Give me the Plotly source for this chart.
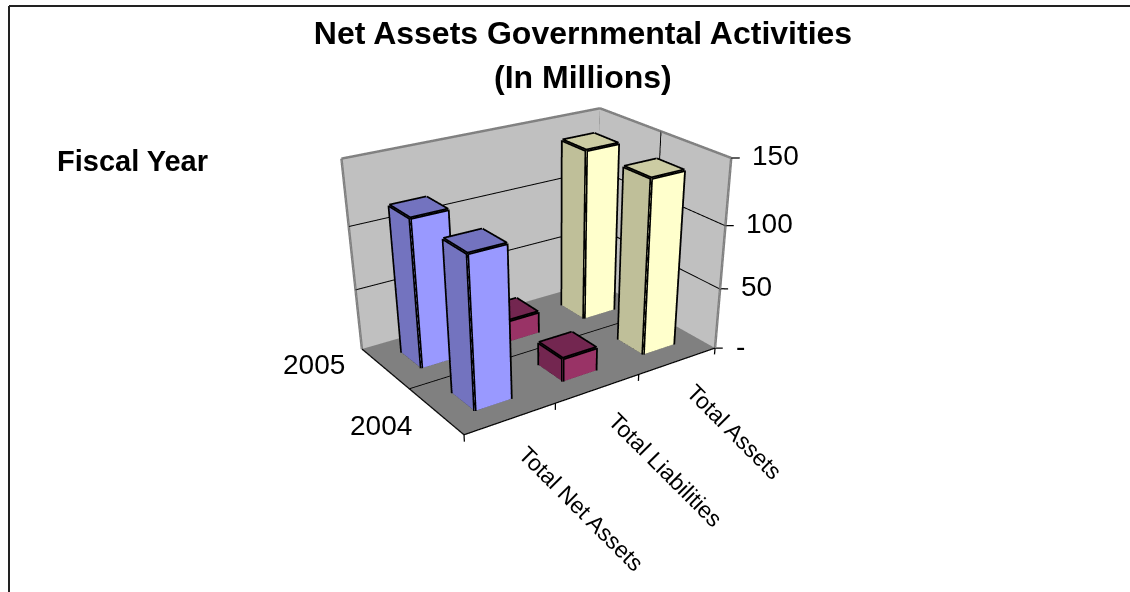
import plotly.graph_objects as go

categories = ["Total Net Assets", "Total Liabilities", "Total Assets"]
years = ["2004", "2005"]
v2004 = [118, 19, 139]
v2005 = [118, 18, 139]
zticks = [0, 50, 100, 150]
zlabels = ["-", "50", "100", "150"]

# Camera of the 3D scene
BOX = (0.8799, 0.6034, 0.5819)
EYE = (-1.6562, -2.4942, 1.2375)
CENTER = (-0.0350, -0.1585, -0.5894)
UP = (0.0009, -0.0017, 1)
PX = 558.9128
FH = 917      # the scene needs this height for its field of view; the page shows the top 592 px

fig = go.Figure()
flat = dict(ambient=1, diffuse=0, specular=0, fresnel=0, roughness=1)
BAR_LO, BAR_HI = 0.30, 0.70

def box(x0, x1, y0, y1, z0, z1, fr, sd, top):
    X = [x0, x1, x1, x0, x0, x1, x1, x0]
    Y = [y0, y0, y1, y1, y0, y0, y1, y1]
    Z = [z0, z0, z0, z0, z1, z1, z1, z1]
    I = [0, 0, 4, 4, 0, 0, 1, 1, 2, 2, 3, 3]
    J = [1, 2, 5, 6, 1, 5, 2, 6, 3, 7, 0, 4]
    K = [2, 3, 6, 7, 5, 4, 6, 5, 7, 6, 4, 7]
    cs = [sd] * 2 + [top] * 2 + [fr] * 2 + [sd] * 2 + [fr] * 2 + [sd] * 2
    fig.add_trace(go.Mesh3d(x=X, y=Y, z=Z, i=I, j=J, k=K, facecolor=cs, flatshading=True, lighting=flat, hoverinfo="skip"))
    segs = [(0, 1), (1, 2), (2, 3), (3, 0), (4, 5), (5, 6), (6, 7), (7, 4), (0, 4), (1, 5), (2, 6), (3, 7)]
    lines([((X[i], Y[i], Z[i]), (X[j], Y[j], Z[j])) for i, j in segs], "#000000", 7)

def quad(X, Y, Z, col):
    fig.add_trace(go.Mesh3d(x=X, y=Y, z=Z, i=[0, 0], j=[1, 2], k=[2, 3], color=col, flatshading=True, lighting=flat, hoverinfo="skip"))

def lines(segs, col, w):
    ex, ey, ez = [], [], []
    for s, t in segs:
        ex += [s[0], t[0], None]
        ey += [s[1], t[1], None]
        ez += [s[2], t[2], None]
    fig.add_trace(go.Scatter3d(x=ex, y=ey, z=ez, mode="lines", line=dict(color=col, width=w), hoverinfo="skip"))

zt = zticks[-1]
nx, ny = len(categories), len(years)
quad([0, nx, nx, 0], [0, 0, ny, ny], [0, 0, 0, 0], "#808080")
quad([0, nx, nx, 0], [ny] * 4, [0, 0, zt, zt], "#C0C0C0")
quad([nx] * 4, [0, ny, ny, 0], [0, 0, zt, zt], "#C0C0C0")
g = []
for v in zticks[1:-1]:
    g += [((0, ny - .005, v), (nx - .005, ny - .005, v)), ((nx - .005, ny - .005, v), (nx - .005, 0, v))]
g += [((0, 1, .2), (nx, 1, .2)), ((nx - .005, 1, 0), (nx - .005, 1, zt))]
lines(g, "#000000", 2)
lines([((0, ny, 0), (0, ny, zt)), ((0, ny, zt), (nx, ny, zt)), ((nx, ny, zt), (nx, 0, zt)),
       ((nx, ny, 0), (nx, ny, zt)), ((nx, 0, 0), (nx, 0, zt))], "#808080", 5)
tk = [((0, 0, 0), (nx, 0, 0)), ((0, 0, 0), (0, ny, 0))]
for k in range(nx + 1):
    tk.append(((k, 0, 0), (k, 0, -5.5)))
for v in zticks:
    tk.append(((nx, 0, v), (nx + .065, -.045, v)))
lines(tk, "#000000", 2.5)

cols = [("#9999FF", "#7373BF", "#7373BF"), ("#993366", "#732650", "#732650"), ("#FFFFCC", "#BFBF99", "#CCCCA3")]
for s, vals in enumerate([v2004, v2005]):
    for k, v in enumerate(vals):
        box(k + BAR_LO, k + BAR_HI, s + BAR_LO, s + BAR_HI, 0, v, *cols[k])

FONT = "Liberation Sans"
ann = []
for v, l in zip(zticks, zlabels):
    ann.append(dict(x=nx, y=0, z=v, text=l, showarrow=False, xanchor="left", yanchor="middle", xshift=19, yshift=2,
                    font=dict(size=28, color="black", family=FONT)))
for k, (l, sh) in enumerate(zip(categories, [(71, 90), (68, 81), (57, 71)])):
    ann.append(dict(x=k + .5, y=0, z=0, text=l, textangle=45, showarrow=False, xanchor="center", yanchor="middle",
                    xshift=sh[0], yshift=-sh[1], font=dict(size=23, color="black", family=FONT)))
for s, (l, sh) in enumerate(zip(years, [(-22, 14), (-38, -4)])):
    ann.append(dict(x=0, y=s + .5, z=0, text=l, showarrow=False, xanchor="right", yanchor="middle",
                    xshift=sh[0], yshift=-sh[1], font=dict(size=28, color="black", family=FONT)))

W = 2 * min(PX, 1130 - PX)
fig.update_layout(
    width=1130, height=FH, margin=dict(l=0, r=0, t=0, b=0), showlegend=False, hovermode=False, paper_bgcolor="white",
    font=dict(family=FONT, color="black"),
    title=dict(text="<b>Net Assets Governmental Activities</b>", x=583 / 1130, y=1 - 33 / FH, xanchor="center", yanchor="middle",
               font=dict(size=32, color="black")),
    shapes=[dict(type="line", xref="paper", yref="paper", x0=9 / 1130, x1=1, y0=1 - 6 / FH, y1=1 - 6 / FH, line=dict(color="#222222", width=2)),
            dict(type="line", xref="paper", yref="paper", x0=9 / 1130, x1=9 / 1130, y0=1 - 6 / FH, y1=0, line=dict(color="#222222", width=2))],
    annotations=[dict(x=583 / 1130, y=1 - 77 / FH, xref="paper", yref="paper", text="<b>(In Millions)</b>", showarrow=False,
                      xanchor="center", yanchor="middle", font=dict(size=32, color="black")),
                 dict(x=132 / 1130, y=1 - 161 / FH, xref="paper", yref="paper", text="<b>Fiscal Year</b>", showarrow=False,
                      xanchor="center", yanchor="middle", font=dict(size=29, color="black"))],
    scene=dict(domain=dict(x=[(PX - W / 2) / 1130, (PX + W / 2) / 1130], y=[0, 1]), aspectmode="manual",
               aspectratio=dict(x=BOX[0] * 1.2, y=BOX[1] * 1.3, z=BOX[2] * 1.2), bgcolor="rgba(0,0,0,0)",
               xaxis=dict(visible=False, range=[-.3, 3.3]), yaxis=dict(visible=False, range=[-.3, 2.3]),
               zaxis=dict(visible=False, range=[-15, 165]), annotations=ann,
               camera=dict(eye=dict(x=EYE[0], y=EYE[1], z=EYE[2]), center=dict(x=CENTER[0], y=CENTER[1], z=CENTER[2]),
                           up=dict(x=UP[0], y=UP[1], z=UP[2]), projection=dict(type="perspective"))))
fig.write_html("out.html", config={"displayModeBar": False},
               post_script="document.body.style.margin='0';document.body.style.overflow='hidden';document.documentElement.style.overflow='hidden';")
